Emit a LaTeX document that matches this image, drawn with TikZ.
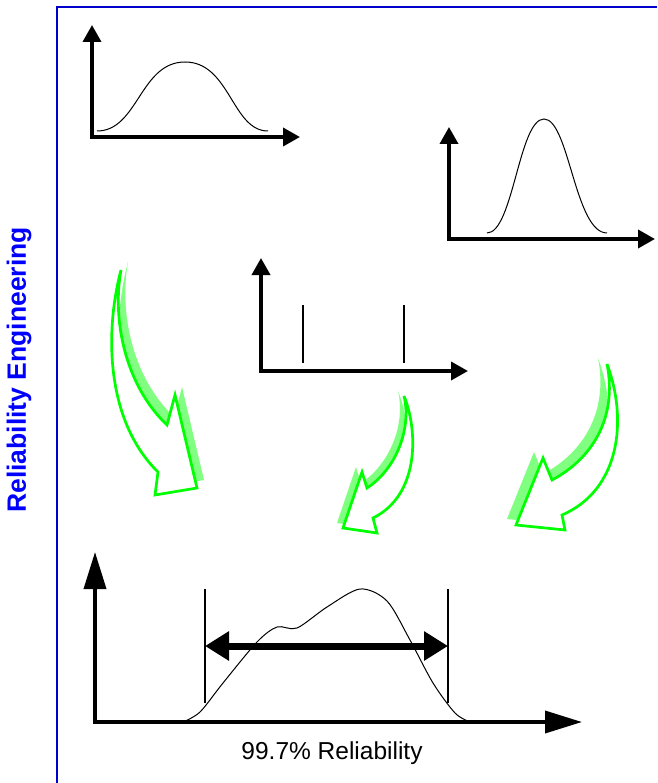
\documentclass[tikz,border=0pt]{standalone}
\usepackage{fontspec}
\setmainfont{Liberation Sans}
\usetikzlibrary{arrows.meta}

\begin{document}
\begin{tikzpicture}[
    x=1pt, y=-1pt,
    every node/.style={font=\fontsize{24.5}{28}\selectfont},
    frame/.style={draw=blue!80!black, line width=1.5pt},
    axis/.style={{Triangle[length=17pt,width=18pt]}-{Triangle[length=17pt,width=18pt]},
                 line width=3.6pt, line join=miter},
    bigaxis/.style={{Triangle[length=37pt,width=22pt]}-{Triangle[length=37pt,width=22pt]},
                 line width=3.6pt, line join=miter},
    pdf/.style={line width=1pt},
    limit/.style={line width=1.6pt},
    span/.style={{Triangle[length=24pt,width=28pt]}-{Triangle[length=24pt,width=28pt]},
                 line width=7pt},
    greenarrow/.style={draw=green, line width=2.7pt, fill=white, line join=miter},
    shadowed/.style={preaction={fill=green!50, draw=none, transform canvas={shift={#1}}}}
]
\useasboundingbox (0,0) rectangle (657,783);
\draw[frame] (57,783) -- (57,7) -- (657,7);

\node[rotate=90, text=blue, font=\fontsize{26.5}{30}\selectfont\bfseries] (title) at (19,370)
    {Reliability Engineering};

% wide spread
\draw[axis] (92,25) |- (300,137);
\draw[pdf] (97,131) .. controls (138,131) and (140,62) .. (185,62)
                    .. controls (230,62) and (232,131) .. (268,131);

% narrow spread
\draw[axis] (449,127) |- (655,239);
\draw[pdf] (487,233) .. controls (513,233) and (519,119) .. (544,119)
                     .. controls (569,119) and (575,233) .. (607,233);

% two point values
\draw[axis] (261,258) |- (468,371);
\draw[limit] (303,305) -- (303,363);
\draw[limit] (404,305) -- (404,363);

% green bent arrows
\draw[greenarrow, shadowed={(7,-8)}] (121,270) .. controls (105,330) and (105,420) .. (158,472)
    -- (155,495) -- (197,488) -- (175,395) -- (167,425)
    .. controls (125,385) and (112,320) .. cycle;
\draw[greenarrow, shadowed={(-6,-5)}] (404,396) .. controls (418,430) and (420,495) .. (373,518)
    -- (377,533) -- (343,528) -- (362,472) -- (367,488)
    .. controls (395,470) and (412,430) .. cycle;
\draw[greenarrow, shadowed={(-9,-6)}] (607,364) .. controls (628,420) and (620,490) .. (562,515)
    -- (565,530) -- (516,525) -- (543,458) -- (552,480)
    .. controls (590,460) and (618,420) .. cycle;

% combined result
\draw[bigaxis] (95,552) |- (582,722);
\draw[pdf] plot[smooth] coordinates {(183,722) (200,712) (223,683) (257,642) (277,627)
    (297,628) (327,607) (360,589) (387,601) (410,640) (433,683) (455,713) (470,722)};
\coordinate (lo) at (205,646);
\coordinate (hi) at (448,646);
\draw[limit] (205,589) -- (205,703);
\draw[limit] (448,589) -- (448,703);
\draw[span] (lo) -- (hi);

\node (caption) at (332,753) {99.7\% Reliability};
\end{tikzpicture}
\end{document}
